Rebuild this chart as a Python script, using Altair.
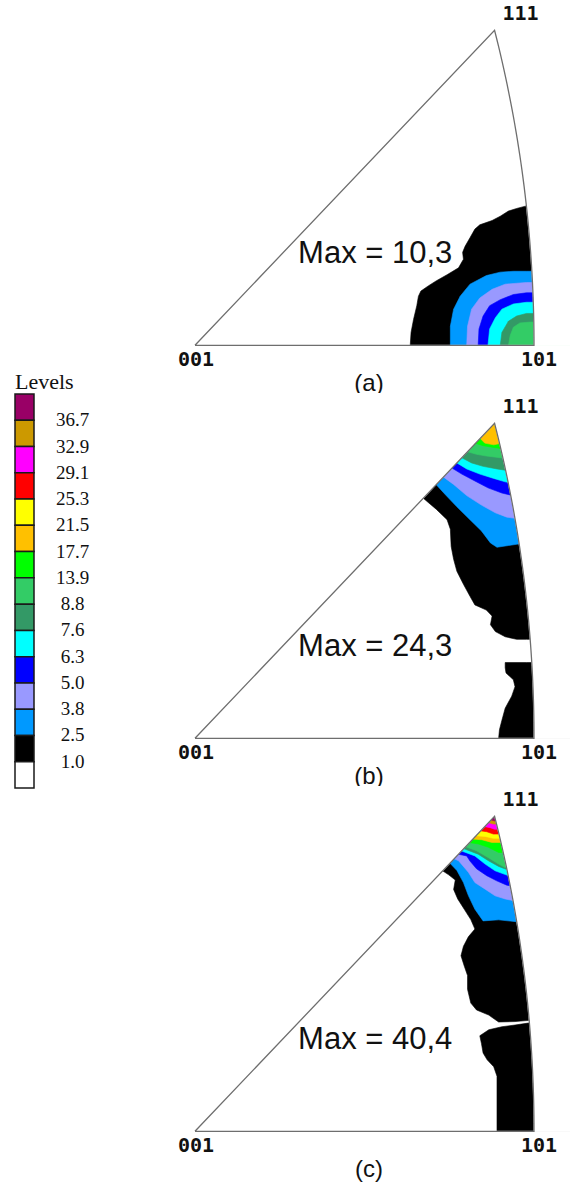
import math
import numpy as np
import pandas as pd
import altair as alt

# ---------------------------------------------------------------------------
# Contour levels (multiples of random density), highest first, with colours
# ---------------------------------------------------------------------------
LEVEL_LABELS = ["36.7", "32.9", "29.1", "25.3", "21.5", "17.7", "13.9",
                "8.8", "7.6", "6.3", "5.0", "3.8", "2.5", "1.0"]
LEVEL_COLORS = ["#990066", "#CC9900", "#FF00FF", "#FF0000", "#FFFF00",
                "#FFC000", "#00FF00", "#33CC66", "#339966", "#00FFFF",
                "#0000FF", "#9999FF", "#0099FF", "#000000"]
BELOW_COLOR = "#FFFFFF"

PANEL_TAGS = ["(a)", "(b)", "(c)"]
PANEL_MAX = ["10,3", "24,3", "40,4"]

# poles of the standard stereographic triangle
POLE_NAMES = ["001", "101", "111"]
POLE_X = [0.0, 0.41421, 0.36603]
POLE_Y = [0.0, 0.0, 0.36603]

# Contour boundaries in stereographic coordinates. Each entry is the lower
# boundary of the region "density >= level":
#   "base" boundaries run from the 001-101 edge up to the 101-111 arc,
#   "diag" boundaries run from the 001-111 edge down to the 101-111 arc.
CONTOURS_A = [
    ("1.0", "base", [(0.263, 0.0), (0.264, 0.015), (0.267, 0.030), (0.271, 0.046),
                     (0.273, 0.057), (0.276, 0.063), (0.285, 0.069), (0.295, 0.075),
                     (0.308, 0.082), (0.322, 0.090), (0.328, 0.100), (0.327, 0.108),
                     (0.330, 0.115), (0.336, 0.125), (0.342, 0.135), (0.348, 0.140),
                     (0.363, 0.145), (0.373, 0.150), (0.383, 0.156), (0.393, 0.159),
                     (0.405, 0.162)]),
    ("2.5", "base", [(0.312, 0.0), (0.312, 0.022), (0.316, 0.042), (0.324, 0.057),
                     (0.336, 0.071), (0.356, 0.081), (0.373, 0.085), (0.389, 0.086),
                     (0.405, 0.086)]),
    ("3.8", "base", [(0.332, 0.0), (0.333, 0.022), (0.338, 0.042), (0.348, 0.055),
                     (0.363, 0.065), (0.379, 0.071), (0.405, 0.073)]),
    ("5.0", "base", [(0.346, 0.0), (0.347, 0.019), (0.352, 0.034), (0.360, 0.046),
                     (0.373, 0.053), (0.389, 0.059), (0.405, 0.061)]),
    ("6.3", "base", [(0.358, 0.0), (0.360, 0.019), (0.367, 0.032), (0.375, 0.042),
                     (0.389, 0.048), (0.405, 0.050)]),
    ("7.6", "base", [(0.373, 0.0), (0.375, 0.015), (0.383, 0.028), (0.393, 0.034),
                     (0.405, 0.037)]),
    ("8.8", "base", [(0.383, 0.0), (0.385, 0.011), (0.389, 0.021), (0.397, 0.026),
                     (0.410, 0.027)]),
]

CONTOURS_B = [
    ("1.0", "diag", [(0.279, 0.279), (0.285, 0.274), (0.295, 0.266), (0.308, 0.254),
                     (0.312, 0.243), (0.313, 0.223), (0.316, 0.208), (0.320, 0.194),
                     (0.328, 0.179), (0.336, 0.165), (0.342, 0.155), (0.356, 0.149),
                     (0.363, 0.142), (0.361, 0.132), (0.367, 0.124), (0.379, 0.118),
                     (0.393, 0.115), (0.405, 0.115)]),
    ("1.0", "base", [(0.371, 0.0), (0.372, 0.010), (0.375, 0.021), (0.379, 0.035),
                     (0.387, 0.049), (0.391, 0.060), (0.389, 0.068), (0.380, 0.076),
                     (0.379, 0.082), (0.379, 0.088), (0.405, 0.088)]),
    ("2.5", "diag", [(0.2945, 0.295), (0.306, 0.283), (0.320, 0.269), (0.336, 0.254),
                     (0.350, 0.241), (0.361, 0.227), (0.369, 0.222), (0.383, 0.224),
                     (0.397, 0.226)]),
    ("3.8", "diag", [(0.303, 0.304), (0.316, 0.295), (0.332, 0.282), (0.350, 0.271),
                     (0.367, 0.262), (0.381, 0.257), (0.395, 0.255)]),
    ("5.0", "diag", [(0.314, 0.314), (0.326, 0.307), (0.342, 0.299), (0.358, 0.291),
                     (0.375, 0.285), (0.393, 0.281)]),
    ("6.3", "diag", [(0.320, 0.320), (0.332, 0.313), (0.348, 0.307), (0.365, 0.302),
                     (0.379, 0.298), (0.391, 0.296)]),
    ("7.6", "diag", [(0.326, 0.326), (0.338, 0.320), (0.352, 0.316), (0.369, 0.313),
                     (0.389, 0.310)]),
    ("8.8", "diag", [(0.333, 0.333), (0.344, 0.330), (0.356, 0.328), (0.373, 0.326),
                     (0.385, 0.325)]),
    ("13.9", "diag", [(0.342, 0.343), (0.352, 0.340), (0.365, 0.338), (0.379, 0.336)]),
    ("17.7", "diag", [(0.348, 0.349), (0.354, 0.343), (0.365, 0.341), (0.375, 0.343)]),
]

CONTOURS_C = [
    ("1.0", "diag", [(0.302, 0.303), (0.310, 0.298), (0.318, 0.292), (0.316, 0.281),
                     (0.321, 0.270), (0.329, 0.258), (0.337, 0.246), (0.342, 0.235),
                     (0.334, 0.226), (0.328, 0.215), (0.325, 0.204), (0.329, 0.192),
                     (0.333, 0.181), (0.333, 0.165), (0.337, 0.149), (0.344, 0.141),
                     (0.359, 0.135), (0.371, 0.127), (0.391, 0.1275), (0.409, 0.129)]),
    ("1.0", "base", [(0.369, 0.0), (0.369, 0.064), (0.365, 0.075), (0.357, 0.083),
                     (0.352, 0.091), (0.350, 0.102), (0.348, 0.111), (0.359, 0.118),
                     (0.375, 0.1215), (0.391, 0.1235), (0.409, 0.126)]),
    ("2.5", "diag", [(0.311, 0.312), (0.320, 0.303), (0.328, 0.289), (0.334, 0.274),
                     (0.342, 0.258), (0.352, 0.2445), (0.371, 0.2457), (0.395, 0.2433)]),
    ("3.8", "diag", [(0.316, 0.317), (0.322, 0.3144), (0.334, 0.301), (0.342, 0.289),
                     (0.3545, 0.2814), (0.3667, 0.2736), (0.379, 0.270), (0.389, 0.268)]),
    ("5.0", "diag", [(0.3207, 0.3221), (0.332, 0.320), (0.336, 0.314), (0.344, 0.305),
                     (0.3565, 0.297), (0.3687, 0.291), (0.381, 0.286), (0.391, 0.2845)]),
    ("6.3", "diag", [(0.325, 0.326), (0.342, 0.320), (0.3545, 0.3105), (0.3667, 0.3027),
                     (0.381, 0.2977), (0.391, 0.296)]),
    ("7.6", "diag", [(0.327, 0.329), (0.346, 0.322), (0.3585, 0.3144), (0.371, 0.3078),
                     (0.385, 0.3027)]),
    ("8.8", "diag", [(0.330, 0.331), (0.344, 0.326), (0.3585, 0.318), (0.371, 0.3105),
                     (0.381, 0.3054)]),
    ("13.9", "diag", [(0.3345, 0.3357), (0.3463, 0.3338), (0.3585, 0.330), (0.371, 0.324)]),
    ("17.7", "diag", [(0.3382, 0.3396), (0.3504, 0.3388), (0.3626, 0.3357)]),
    ("21.5", "diag", [(0.3423, 0.3435), (0.3545, 0.3427), (0.3646, 0.3404)]),
    ("25.3", "diag", [(0.348, 0.3493), (0.3565, 0.3481), (0.3646, 0.3454)]),
    ("29.1", "diag", [(0.3528, 0.3543), (0.3606, 0.3528), (0.366, 0.351)]),
    ("32.9", "diag", [(0.3577, 0.359), (0.3646, 0.357)]),
    ("36.7", "diag", [(0.3606, 0.3621), (0.3667, 0.3605)]),
]

PANEL_CONTOURS = [CONTOURS_A, CONTOURS_B, CONTOURS_C]

# ---------------------------------------------------------------------------
# Layout
# ---------------------------------------------------------------------------
LEGEND_W = 180
PANEL_W, PANEL_H = 390, 393
ORIGIN_PX, ORIGIN_PY = 15.0, 345.3        # where the 001 pole sits in a panel
PX_PER_X = 339.0 / POLE_X[1]               # 001 -> 101 edge length
PX_PER_Y = 315.0 / POLE_Y[2]               # baseline -> 111 height
X_DOMAIN = [-ORIGIN_PX / PX_PER_X, (PANEL_W - ORIGIN_PX) / PX_PER_X]
Y_DOMAIN = [-(PANEL_H - ORIGIN_PY) / PX_PER_Y, ORIGIN_PY / PX_PER_Y]

MAX_TEXT_POS = (0.126, 0.096)     # left end / baseline of the "Max = ..." note
TAG_POS = (0.2126, -0.0535)       # centre / baseline of the panel tag
OUTER = 0.47                      # beyond the triangle, hidden by the masks
TOP = 0.45
BOTTOM = -0.03

XS = alt.Scale(domain=X_DOMAIN, nice=False, zero=False)
YS = alt.Scale(domain=Y_DOMAIN, nice=False, zero=False)


def enc_xy():
    return dict(x=alt.X("x:Q", scale=XS, axis=None),
                y=alt.Y("y:Q", scale=YS, axis=None))


def close_region(kind, pts):
    pts = list(pts)
    if kind == "base":
        x0 = pts[0][0]
        return [(x0, BOTTOM)] + pts + [(OUTER, pts[-1][1]), (OUTER, BOTTOM)]
    x0, y0 = pts[0]
    return [(x0 - 0.03, y0)] + pts + [(OUTER, pts[-1][1]), (OUTER, TOP), (x0 - 0.03, TOP)]


def ring_frame(polys):
    rows = []
    for k, pts in enumerate(polys):
        ring = list(pts) + [pts[0]]
        for i, (x, y) in enumerate(ring):
            rows.append({"poly": k, "i": i, "x": x, "y": y})
    return pd.DataFrame(rows)


def filled_layer(polys, color, stroke_width=0.6):
    return alt.Chart(ring_frame(polys)).mark_line(
        fill=color, stroke=color, strokeWidth=stroke_width, clip=True,
        strokeJoin="round", interpolate="linear"
    ).encode(order=alt.Order("i:Q"), detail="poly:N", **enc_xy())


# triangle frame: 001 -> 101 -> arc (great circle through 101 and 111) -> 111
arc_t = np.linspace(0.0, math.radians(15.0), 41)
arc_pts = [(-1.0 + math.sqrt(2.0) * math.cos(t), math.sqrt(2.0) * math.sin(t)) for t in arc_t]
frame_pts = [(POLE_X[0], POLE_Y[0])] + arc_pts + [(POLE_X[0], POLE_Y[0])]

# white masks hiding everything outside the triangle (overlapping above 111)
mask_right = arc_pts + [(POLE_X[2] - 0.03, TOP), (OUTER + 0.05, TOP), (OUTER + 0.05, 0.0)]
mask_left = [(0.0, 0.0), (POLE_X[2], POLE_Y[2]), (POLE_X[2] + 0.03, TOP),
             (-0.06, TOP), (-0.06, 0.0)]
mask_below = [(-0.06, 0.0), (OUTER + 0.05, 0.0), (OUTER + 0.05, -0.12), (-0.06, -0.12)]


def panel(contours, tag, max_value):
    layers = []
    for label, color in zip(LEVEL_LABELS[::-1], LEVEL_COLORS[::-1]):
        polys = [close_region(kind, pts) for (lev, kind, pts) in contours if lev == label]
        if polys:
            layers.append(filled_layer(polys, color))
    layers.append(filled_layer([mask_right, mask_left, mask_below], "#FFFFFF", 0.8))

    frame_df = pd.DataFrame({"i": range(len(frame_pts)),
                             "x": [p[0] for p in frame_pts],
                             "y": [p[1] for p in frame_pts]})
    layers.append(alt.Chart(frame_df).mark_line(
        stroke="#6e6e6e", strokeWidth=1.3, strokeJoin="miter"
    ).encode(order=alt.Order("i:Q"), **enc_xy()))

    pole_style = dict(font="DejaVu Sans Mono", fontWeight="bold", fontSize=20,
                      color="#111111", baseline="alphabetic", align="center")
    offsets = {"001": (1, 21), "101": (5, 21), "111": (26, -10)}
    for name, px, py in zip(POLE_NAMES, POLE_X, POLE_Y):
        dx, dy = offsets[name]
        df = pd.DataFrame({"x": [px], "y": [py], "t": [name]})
        layers.append(alt.Chart(df).mark_text(dx=dx, dy=dy, **pole_style)
                      .encode(text="t:N", **enc_xy()))

    max_df = pd.DataFrame({"x": [MAX_TEXT_POS[0]], "y": [MAX_TEXT_POS[1]],
                           "t": ["Max = " + max_value]})
    layers.append(alt.Chart(max_df).mark_text(
        align="left", baseline="alphabetic", font="Liberation Sans",
        fontSize=31, color="#111111"
    ).encode(text="t:N", **enc_xy()))

    tag_df = pd.DataFrame({"x": [TAG_POS[0]], "y": [TAG_POS[1]], "t": [tag]})
    layers.append(alt.Chart(tag_df).mark_text(
        align="center", baseline="alphabetic", font="Liberation Sans",
        fontSize=24, color="#111111"
    ).encode(text="t:N", **enc_xy()))

    return alt.layer(*layers).properties(width=PANEL_W, height=PANEL_H)


# ---------------------------------------------------------------------------
# Level legend
# ---------------------------------------------------------------------------
keys = LEVEL_LABELS + ["below"]
legend_df = pd.DataFrame({"key": keys, "label": LEVEL_LABELS + [""]})
band = alt.Scale(type="band", domain=keys, range=[394, 788], paddingInner=0, paddingOuter=0)

legend_boxes = alt.Chart(legend_df).mark_rect(stroke="#1a1a1a", strokeWidth=1.5).encode(
    x=alt.value(15), x2=alt.value(34),
    y=alt.Y("key:N", scale=band, axis=None),
    fill=alt.Fill("key:N", scale=alt.Scale(domain=keys, range=LEVEL_COLORS + [BELOW_COLOR]),
                  legend=None),
)
legend_labels = alt.Chart(legend_df.iloc[:-1]).mark_text(
    align="center", baseline="middle", font="Liberation Serif", fontSize=19, color="#111111"
).encode(
    x=alt.value(72.5),
    y=alt.Y("key:N", scale=band, axis=None, bandPosition=1),
    text="label:N",
)
legend_title = alt.Chart(pd.DataFrame({"t": ["Levels"]})).mark_text(
    align="left", baseline="alphabetic", font="Liberation Serif", fontSize=22, color="#111111"
).encode(x=alt.value(15), y=alt.value(389), text="t:N")

legend = alt.layer(legend_boxes, legend_labels, legend_title).properties(
    width=LEGEND_W, height=PANEL_H * 3)

panels = alt.vconcat(
    *[panel(c, t, m) for c, t, m in zip(PANEL_CONTOURS, PANEL_TAGS, PANEL_MAX)],
    spacing=0, bounds="flush")

chart = alt.hconcat(legend, panels, spacing=0, bounds="flush").properties(
    padding=0, background="#FFFFFF"
).configure_view(stroke=None)

chart.save("out.html", embed_options={"renderer": "svg", "actions": False})
